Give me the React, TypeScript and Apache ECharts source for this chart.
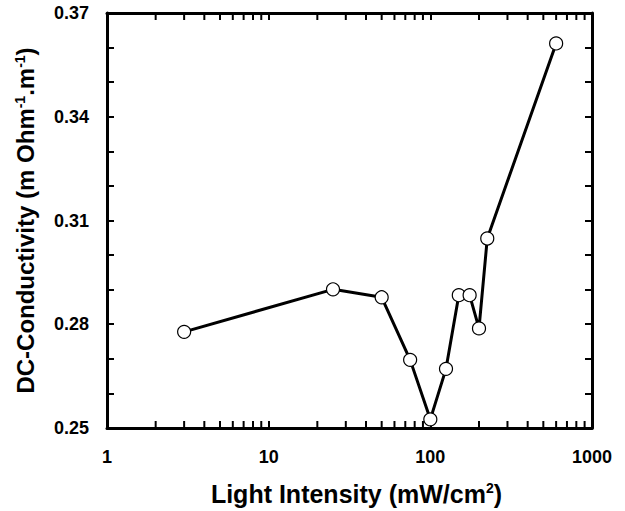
import React, { useEffect, useRef } from "react";
import * as echarts from "echarts";

const intensity = [3, 25, 50, 75, 100, 125, 150, 175, 200, 225, 600];
const conductivity = [0.2778, 0.2901, 0.2878, 0.2697, 0.2525, 0.2671, 0.2884, 0.2884, 0.2788, 0.3048, 0.3612];
const yTickLabels = ["0.25", "0.28", "0.31", "0.34", "0.37"];
const xTickLabels = ["1", "10", "100", "1000"];
const xMinorTicks = [2, 3, 4, 5, 6, 7, 8, 9, 20, 30, 40, 50, 60, 70, 80, 90, 200, 300, 400, 500, 600, 700, 800, 900];

const FONT = "'Liberation Sans', Arial, Helvetica, sans-serif";
const TICK_LEN = 7;
const TICK_COLOR = "#000";

export default function App() {
  const ref = useRef<HTMLDivElement>(null);
  useEffect(() => {
    if (!ref.current) return;
    const chart = echarts.init(ref.current, null, { renderer: "svg" });
    const axisLine = { show: true, lineStyle: { color: "#000", width: 3 } };
    const tick = { show: true, inside: true, length: TICK_LEN, lineStyle: { color: TICK_COLOR, width: 2 } };
    const labelStyle = { color: "#000", fontSize: 18, fontWeight: "bold" as const, fontFamily: FONT };
    const sup = { fontSize: 14, fontWeight: "bold" as const, fontFamily: FONT, color: "#000", padding: [0, 0, 11, 0] };
    chart.setOption({
      animation: false,
      backgroundColor: "#fff",
      grid: { left: 107, right: 33, top: 13, bottom: 83, containLabel: false, outerBoundsMode: "none" },
      xAxis: [
        {
          type: "log",
          logBase: 10,
          min: 1,
          max: 1000,
          position: "bottom",
          axisLine,
          axisTick: tick,
          splitLine: { show: false },
          axisLabel: {
            ...labelStyle,
            margin: 20,
            formatter: (v: number) => {
              const s = String(Math.round(v));
              return xTickLabels.includes(s) ? s : "";
            },
          },
          name: "  Light Intensity (mW/cm{sup|2})",
          nameLocation: "middle",
          nameGap: 53,
          nameTextStyle: { color: "#000", fontSize: 25, fontWeight: "bold", fontFamily: FONT, rich: { sup } },
        },
        {
          type: "log",
          logBase: 10,
          min: 1,
          max: 1000,
          position: "top",
          axisLine,
          axisTick: tick,
          splitLine: { show: false },
          axisLabel: { show: false },
        },
      ],
      yAxis: [
        {
          type: "value",
          min: 0.25,
          max: 0.37,
          interval: 0.01,
          position: "left",
          axisLine,
          axisTick: tick,
          splitLine: { show: false },
          axisLabel: {
            ...labelStyle,
            margin: 18,
            formatter: (v: number) => {
              const s = v.toFixed(2);
              return yTickLabels.includes(s) ? s : "";
            },
          },
          name: "DC-Conductivity (m Ohm{sup|-1}.m{sup|-1})",
          nameLocation: "middle",
          nameRotate: 90,
          nameGap: 69,
          nameTextStyle: { color: "#000", fontSize: 24, fontWeight: "bold", fontFamily: FONT, rich: { sup } },
        },
        {
          type: "value",
          min: 0.25,
          max: 0.37,
          interval: 0.01,
          position: "right",
          axisLine,
          axisTick: tick,
          splitLine: { show: false },
          axisLabel: { show: false },
        },
      ],
      series: [
        {
          type: "custom",
          silent: true,
          xAxisIndex: 0,
          yAxisIndex: 0,
          data: xMinorTicks.map((v) => [v, 0.25]),
          encode: { x: 0, y: 1 },
          clip: false,
          z: 10,
          renderItem: (params: any, api: any) => {
            const x = api.value(0);
            const pb = api.coord([x, 0.25]);
            const pt = api.coord([x, 0.37]);
            return {
              type: "group",
              children: [
                { type: "line", shape: { x1: pb[0], y1: pb[1], x2: pb[0], y2: pb[1] - TICK_LEN }, style: { stroke: TICK_COLOR, lineWidth: 2 } },
                { type: "line", shape: { x1: pt[0], y1: pt[1], x2: pt[0], y2: pt[1] + TICK_LEN }, style: { stroke: TICK_COLOR, lineWidth: 2 } },
              ],
            };
          },
        },
        {
          type: "line",
          xAxisIndex: 0,
          yAxisIndex: 0,
          data: intensity.map((x, i) => [x, conductivity[i]]),
          symbol: "circle",
          symbolSize: 13,
          showAllSymbol: true,
          lineStyle: { color: "#000", width: 3 },
          itemStyle: { color: "#fff", borderColor: "#000", borderWidth: 1.2 },
          z: 5,
        },
      ],
    });
    return () => chart.dispose();
  }, []);
  return <div ref={ref} style={{ position: "fixed", left: 0, top: 0, width: 625, height: 511, background: "#fff" }} />;
}
